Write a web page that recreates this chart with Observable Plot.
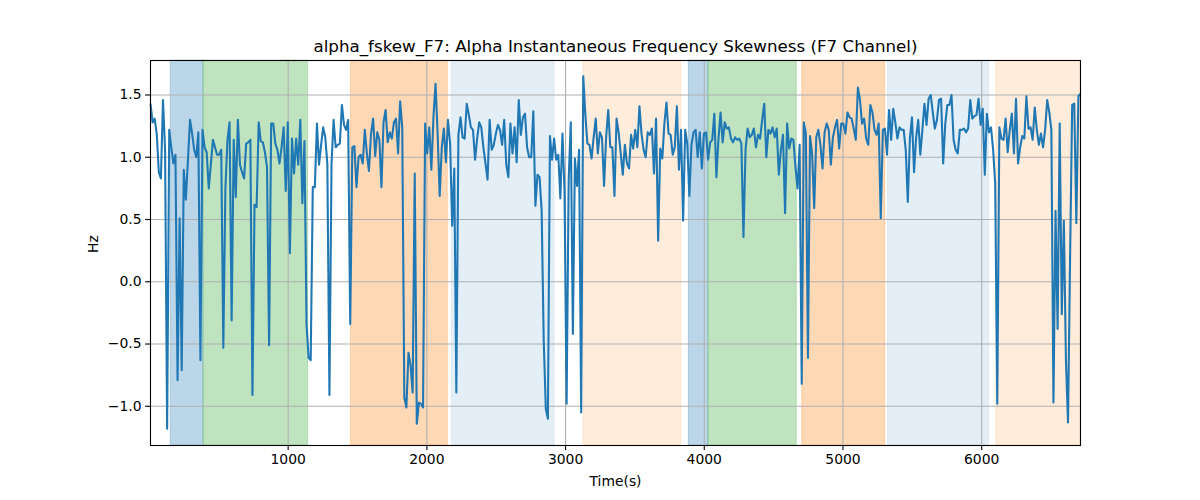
<!DOCTYPE html>
<html>
<head>
<meta charset="utf-8">
<script src="https://cdn.jsdelivr.net/npm/d3@7"></script>
<script src="https://cdn.jsdelivr.net/npm/@observablehq/plot@0.6"></script>
<style>
  html, body { margin: 0; padding: 0; background: #fff; }
  #chart { width: 1200px; height: 500px; }
</style>
</head>
<body>
<div id="chart"></div>
<script>
const titleText = "alpha_fskew_F7: Alpha Instantaneous Frequency Skewness (F7 Channel)";
const xLabel = "Time(s)";
const yLabel = "Hz";

// sampling grid of the series (seconds)
const sampleStart = 7.5;
const sampleStep = 15;

const skewValues = [
  1.43,1.28,1.31,1.19,0.88,0.83,1.46,1.06,-1.18,1.22,
  1.08,0.95,1.02,-0.79,0.51,-0.71,0.90,0.66,0.98,1.30,
  1.19,1.06,1.00,1.20,-0.63,1.22,1.08,1.04,0.75,0.94,
  1.14,1.08,1.02,1.02,1.06,-0.53,0.75,1.14,1.28,-0.31,
  1.14,0.68,1.30,0.94,0.88,0.83,1.11,1.12,1.14,-0.91,
  0.62,0.60,1.28,1.13,1.12,1.04,0.92,-0.51,1.27,1.27,
  1.11,1.06,0.95,1.08,1.24,0.73,1.28,0.23,1.15,0.87,
  1.15,0.94,1.30,0.63,1.13,-0.34,-0.61,-0.63,0.76,0.76,
  1.27,0.94,1.10,1.24,1.16,0.95,-0.91,0.94,1.30,1.08,
  1.10,1.11,1.42,1.26,1.22,1.30,-0.34,1.08,1.09,0.76,
  1.00,1.02,0.95,1.22,1.03,0.89,1.19,1.31,1.01,1.20,
  1.14,
  0.76,1.28,1.38,1.12,1.20,1.15,1.28,1.31,1.03,1.45,
  1.24,-0.93,-1.01,-0.57,-0.67,-0.89,0.87,-1.14,-0.97,-0.98,
  -1.01,1.27,1.03,1.24,0.90,1.32,1.59,1.19,0.69,1.08,
  1.23,0.96,1.30,1.11,0.45,0.91,-0.89,1.18,1.32,1.16,
  1.15,1.43,1.34,1.24,1.22,0.98,1.15,1.28,1.24,1.08,
  0.95,0.82,1.30,1.06,1.10,1.19,1.26,1.22,1.10,1.30,
  0.94,0.84,1.27,1.03,1.24,0.96,1.46,1.18,1.32,1.35,
  1.08,1.00,1.00,1.37,0.61,0.86,0.84,0.57,-0.47,-1.02,
  -1.10,1.17,0.98,1.15,0.98,1.02,0.67,1.19,0.73,-0.98,
  0.82,1.28,-0.42,0.99,0.77,1.06,-1.05,1.65,1.34,1.11,
  1.10,0.99,1.16,1.31,1.03,1.20,
  1.16,0.77,1.16,1.38,1.08,1.08,0.69,1.31,1.20,1.03,
  0.86,1.10,0.95,0.91,1.18,1.07,1.22,1.08,1.41,1.19,
  1.06,1.00,1.20,1.18,1.23,0.87,1.31,0.33,1.07,0.99,
  1.27,1.44,1.19,1.18,1.02,1.08,1.41,0.90,1.22,0.49,
  1.22,1.11,0.69,1.10,1.20,1.22,1.00,1.20,0.91,1.19,
  1.20,0.98,1.12,1.14,1.35,0.84,1.15,1.36,1.12,1.28,
  1.23,1.24,1.15,1.12,1.16,1.14,1.15,1.11,0.36,1.06,
  1.23,1.16,1.18,1.23,1.08,1.18,1.15,1.30,1.43,1.00,
  1.22,1.19,1.24,1.16,1.23,0.86,1.06,1.18,0.55,1.27,
  1.07,1.15,1.14,0.92,0.75,1.10,-0.82,1.28,1.19,-0.61,
  1.17,1.03,0.59,1.16,1.22,1.10,0.91,1.20,1.27,1.22,
  0.94,1.16,1.24,1.30,1.07,
  1.27,1.27,1.19,1.36,1.32,1.31,1.23,1.14,1.56,1.46,
  1.27,1.31,1.15,1.10,1.42,1.36,1.22,1.18,1.27,0.51,
  1.22,1.23,1.02,1.38,1.14,1.39,1.28,1.15,1.24,1.22,
  1.22,1.06,0.64,1.15,1.32,0.88,1.16,1.30,1.02,1.22,
  1.43,1.26,1.47,1.50,1.36,1.23,1.30,1.46,1.47,0.95,
  1.27,1.42,1.42,1.50,1.14,1.06,1.03,1.22,1.22,1.23,
  1.20,1.23,1.46,1.31,1.33,1.34,1.47,1.26,1.39,0.86,
  1.35,1.20,1.24,1.06,0.79,-0.98,1.24,1.15,1.14,1.31,
  1.04,1.22,1.35,1.03,1.47,0.95,1.08,1.17,1.15,1.49,
  1.23,1.24,1.14,1.40,1.22,1.10,1.19,1.08,1.22,1.46,
  1.36,1.22,-0.97,0.57,-0.38,1.27,-0.26,0.49,-0.63,-1.13,
  0.20,1.42,1.43,0.47,1.49,1.51
];

// shaded segments
const bandStart = [153, 389, 1452, 2181, 3130, 3888, 4030, 4706, 5324, 6105];
const bandEnd   = [389, 1144, 2151, 2921, 3833, 4030, 4667, 5305, 6053, 6712.5];
const bandKind  = ["A", "B", "C", "D", "E", "A", "B", "C", "D", "E"];

const xTicks = [1000, 2000, 3000, 4000, 5000, 6000];
const yTicks = [-1.0, -0.5, 0.0, 0.5, 1.0, 1.5];
const xDomain = [7.5, 6712.5];
const yDomain = [-1.315, 1.777];

// ---- build tables
const series = skewValues.map((v, i) => ({t: sampleStart + i * sampleStep, v}));
const bands = bandStart.map((s, i) => ({x1: s, x2: bandEnd[i], kind: bandKind[i]}));

const kindColor = {A: "#1f77b4", B: "#2ca02c", C: "#ff7f0e", D: "#1f77b4", E: "#ff7f0e"};
const kindAlpha = {A: 0.3, B: 0.3, C: 0.3, D: 0.12, E: 0.15};

const font = "DejaVu Sans, Liberation Sans, sans-serif";

const chart = Plot.plot({
  width: 1200,
  height: 500,
  marginLeft: 150,
  marginRight: 120,
  marginTop: 60,
  marginBottom: 55,
  style: {fontFamily: font, fontSize: "13.9px", background: "#fff", color: "#000"},
  x: {domain: xDomain},
  y: {domain: yDomain},
  marks: [
    Plot.rectX(bands, {
      x1: "x1", x2: "x2", y1: yDomain[0], y2: yDomain[1],
      fill: d => kindColor[d.kind],
      fillOpacity: d => kindAlpha[d.kind],
      stroke: d => kindColor[d.kind],
      strokeOpacity: d => kindAlpha[d.kind] * 0.8,
      strokeWidth: 1
    }),
    Plot.gridX(xTicks, {stroke: "#b0b0b0", strokeOpacity: 1, strokeWidth: 1.1}),
    Plot.gridY(yTicks, {stroke: "#b0b0b0", strokeOpacity: 1, strokeWidth: 1.1}),
    Plot.line(series, {x: "t", y: "v", stroke: "#1f77b4", strokeWidth: 2.08, strokeLinejoin: "round", strokeLinecap: "butt"}),
    Plot.frame({stroke: "#000", strokeWidth: 1.1}),
    Plot.axisX(xTicks, {tickSize: 4.9, tickPadding: 4, tickFormat: d => String(d), label: null, fontSize: 13.9, stroke: "#000", strokeWidth: 1.1}),
    Plot.axisY(yTicks, {tickSize: 4.9, tickPadding: 4, tickFormat: d => d.toFixed(1).replace("-", "\u2212"), label: null, fontSize: 13.9, stroke: "#000", strokeWidth: 1.1}),
    Plot.text([titleText], {frameAnchor: "top", dy: -14, lineAnchor: "middle", fontSize: 16.7, fill: "#000"}),
    Plot.text([xLabel], {frameAnchor: "bottom", dy: 36, lineAnchor: "middle", fontSize: 13.9, fill: "#000"}),
    Plot.text([yLabel], {frameAnchor: "left", dx: -57, rotate: -90, lineAnchor: "middle", fontSize: 13.9, fill: "#000"})
  ]
});
document.getElementById("chart").appendChild(chart);
</script>
</body>
</html>
